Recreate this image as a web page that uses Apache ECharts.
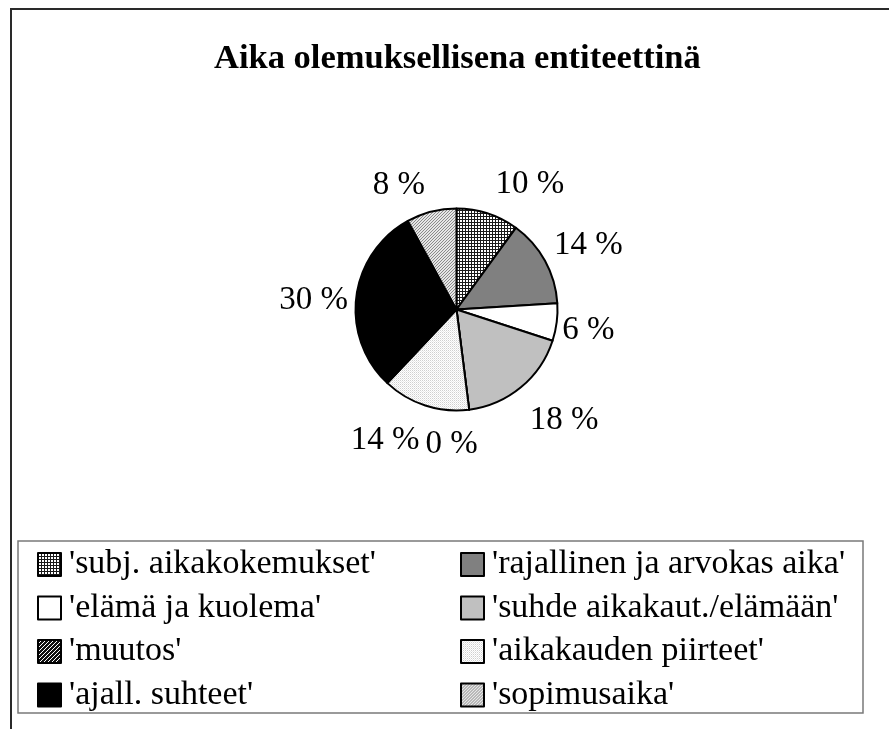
<!DOCTYPE html>
<html>
<head>
<meta charset="utf-8">
<script src="https://cdn.jsdelivr.net/npm/echarts@6/dist/echarts.min.js"></script>
<style>
html,body{margin:0;padding:0;background:#fff;}
#chart{width:889px;height:729px;}
</style>
</head>
<body>
<div id="chart"></div>
<script>
// ---- data ----
const titleText = "Aika olemuksellisena entiteettinä";
const categories = [
  "'subj. aikakokemukset'",
  "'rajallinen ja arvokas aika'",
  "'elämä ja kuolema'",
  "'suhde aikakaut./elämään'",
  "'muutos'",
  "'aikakauden piirteet'",
  "'ajall. suhteet'",
  "'sopimusaika'"
];
const values = [10, 14, 6, 18, 0, 14, 30, 8];
const legendLeftIdx = [0, 2, 4, 6];
const legendRightIdx = [1, 3, 5, 7];

// ---- label placement tweaks (style, px offsets from the geometric position) ----
const labelNudge = [[29, 11], [-4, 11], [-12, 3], [11, -6], [-22, -1], [-27, -5], [9, 10], [-23, 11]];

// ---- patterns ----
function tile(w, h, draw) {
  const c = document.createElement('canvas');
  c.width = w; c.height = h;
  const ctx = c.getContext('2d');
  draw(ctx);
  return { image: c, repeat: 'repeat' };
}
function px(ctx, x, y, col) { ctx.fillStyle = col; ctx.fillRect(x, y, 1, 1); }
const fills = [
  tile(3, 3, ctx => { ctx.fillStyle = '#1a1a1a'; ctx.fillRect(0,0,3,3); ctx.fillStyle = '#ffffff'; ctx.fillRect(1,1,2,2); }),
  '#808080',
  '#ffffff',
  '#c0c0c0',
  tile(4, 4, ctx => { ctx.fillStyle = '#111'; ctx.fillRect(0,0,4,4); for (let i=0;i<4;i++) px(ctx, i, 3-i, '#ffffff'); }),
  tile(2, 2, ctx => { ctx.fillStyle = '#ffffff'; ctx.fillRect(0,0,2,2); px(ctx,0,0,'#cfcfcf'); px(ctx,1,1,'#e8e8e8'); }),
  '#000000',
  tile(3, 3, ctx => { ctx.fillStyle = '#e6e6e6'; ctx.fillRect(0,0,3,3); for (let i=0;i<3;i++) px(ctx, i, 2-i, '#8a8a8a'); })
];

const FONT = "'Liberation Serif', 'Times New Roman', serif";
const CX = 456.5, CY = 309.5, R = 101;
const total = values.reduce((a, b) => a + b, 0);
const cum = [];
values.reduce((acc, v, i) => { cum[i] = acc; return acc + v; }, 0);

const chart = echarts.init(document.getElementById('chart'), null, { renderer: 'canvas' });

function legendFor(idx, left) {
  return {
    orient: 'vertical',
    left: left,
    top: 546,
    padding: 0,
    itemWidth: 23,
    itemHeight: 23,
    itemGap: 6.5,
    selectedMode: false,
    icon: 'rect',
    itemStyle: { borderColor: '#000', borderWidth: 2 },
    textStyle: { fontFamily: FONT, fontSize: 34, color: '#000', lineHeight: 37, padding: [0, 0, 0, 3] },
    data: idx.map(i => categories[i])
  };
}

const option = {
  animation: false,
  backgroundColor: '#ffffff',
  title: {
    text: titleText,
    left: 209,
    top: 37,
    textStyle: { fontFamily: FONT, fontSize: 34.5, fontWeight: 'bold', color: '#000' }
  },
  legend: [legendFor(legendLeftIdx, 37), legendFor(legendRightIdx, 460)],
  graphic: [
    { type: 'rect', silent: true, z: -1, shape: { x: 11, y: 9, width: 1200, height: 1200 },
      style: { fill: null, stroke: '#2a2a2a', lineWidth: 2 } },
    { type: 'rect', silent: true, z: -1, shape: { x: 18, y: 541, width: 845, height: 172 },
      style: { fill: null, stroke: '#7a7a7a', lineWidth: 1.5 } }
  ],
  series: [{
    type: 'pie',
    center: [CX, CY],
    radius: R,
    startAngle: 90,
    clockwise: true,
    avoidLabelOverlap: false,
    itemStyle: { borderColor: '#000', borderWidth: 2 },
    emphasis: { disabled: true },
    label: {
      show: true,
      position: 'outside',
      fontFamily: FONT,
      fontSize: 33,
      color: '#000',
      formatter: p => Math.round(p.percent) + ' %'
    },
    labelLine: { show: false },
    labelLayout: function (params) {
      const i = params.dataIndex;
      const mid = (cum[i] + values[i] / 2) / total * Math.PI * 2;
      const ux = Math.sin(mid), uy = -Math.cos(mid);
      const w = params.labelRect.width, h = params.labelRect.height;
      const d = R + 16 + Math.abs(ux) * w / 2 + Math.abs(uy) * h / 2;
      return { x: CX + ux * d + labelNudge[i][0], y: CY + uy * d + labelNudge[i][1], align: 'center', verticalAlign: 'middle' };
    },
    data: categories.map((name, i) => ({ name: name, value: values[i], itemStyle: { color: fills[i] } }))
  }]
};
chart.setOption(option);
</script>
</body>
</html>
